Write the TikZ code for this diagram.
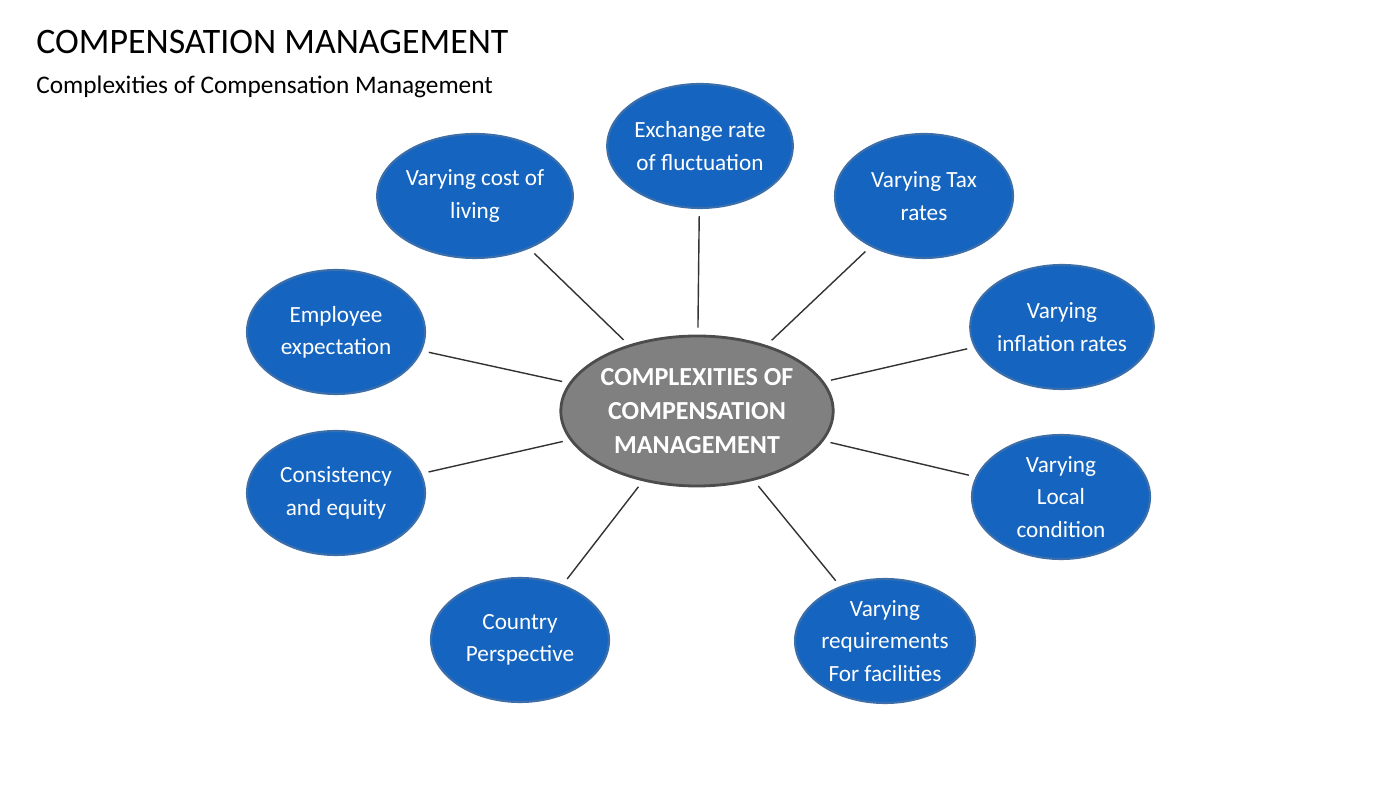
\documentclass[tikz,border=0pt]{standalone}
\usepackage{fontspec}
\setmainfont{Carlito}
\usetikzlibrary{shapes.geometric}
\definecolor{bluefill}{RGB}{21,101,192}
\definecolor{blueline}{RGB}{60,110,170}
\definecolor{grayfill}{RGB}{128,128,128}
\tikzset{
  topic/.style={draw=blueline, line width=0.6pt, fill=bluefill, ellipse, minimum width=1.78cm, minimum height=1.24cm, inner sep=0pt, text=white, align=center, font=\fontsize{6.6}{9.2}\selectfont},
  hub/.style={draw=black!70, line width=0.8pt, fill=grayfill, ellipse, minimum width=2.64cm, minimum height=1.5cm, inner sep=0pt, text=white, align=center, font=\bfseries\fontsize{7.4}{9.6}\selectfont},
  spoke/.style={black!80, line width=0.4pt, shorten >=2pt, shorten <=2pt}
}
\begin{document}
\begin{tikzpicture}
\useasboundingbox (0,0) rectangle (14,7.88);
\node[anchor=west, font=\fontsize{10.2}{12}\selectfont] (title) at (0.24,7.46) {COMPENSATION MANAGEMENT};
\node[anchor=west, font=\fontsize{7.2}{9}\selectfont] (sub) at (0.24,7.01) {Complexities of Compensation Management};
\node[hub] (hub) at (6.97,3.77) {COMPLEXITIES OF\\COMPENSATION\\MANAGEMENT};
\node[topic] (exch) at (7.00,6.42) {Exchange rate\\of fluctuation};
\node[topic] (cost) at (4.75,5.92) {Varying cost of\\living};
\node[topic] (tax) at (9.24,5.92) {Varying Tax\\rates};
\node[topic] (empl) at (3.36,4.56) {Employee\\expectation};
\node[topic] (infl) at (10.62,4.61) {Varying\\inflation rates};
\node[topic] (cons) at (3.36,2.95) {Consistency\\and equity};
\node[topic] (local) at (10.61,2.91) {Varying\\Local\\condition};
\node[topic] (ctry) at (5.20,1.48) {Country\\Perspective};
\node[topic] (facil) at (8.85,1.47) {Varying\\requirements\\For facilities};
\foreach \n in {exch,cost,tax,empl,infl,cons,local,ctry,facil}
  \draw[spoke] (hub) -- (\n);
\end{tikzpicture}
\end{document}
